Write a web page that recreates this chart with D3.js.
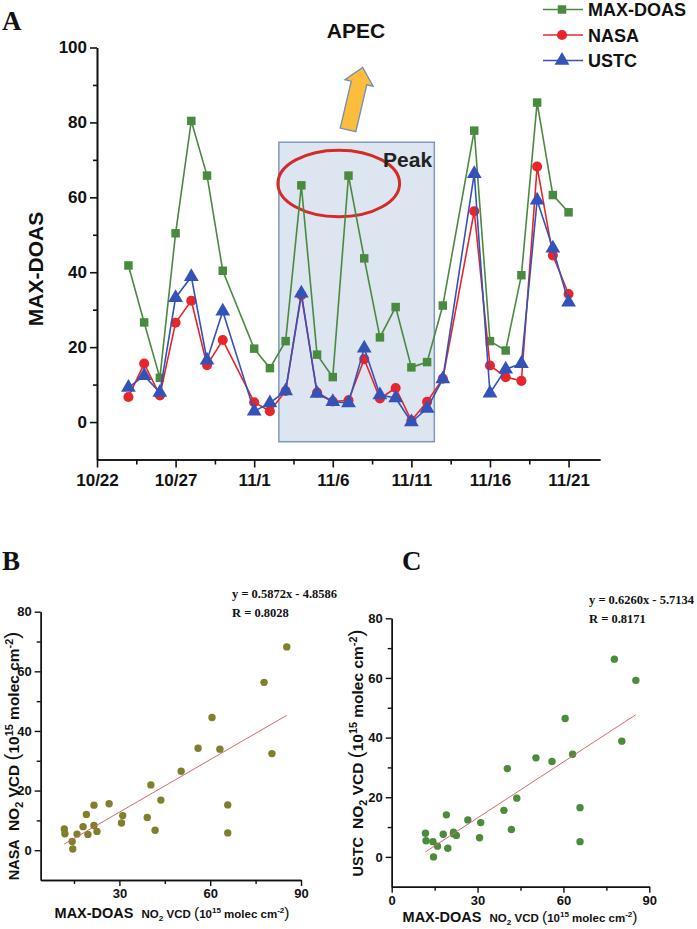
<!DOCTYPE html>
<html><head><meta charset="utf-8">
<script src="https://cdn.jsdelivr.net/npm/d3@7"></script>
<style>
html,body{margin:0;padding:0;background:#fff;}
svg{display:block;font-family:"Liberation Sans",Arial,sans-serif;}
</style></head>
<body>
<svg id="c" width="697" height="929"></svg>
<script>
// ---------- DATA ----------
const dates = ["10/24","10/25","10/26","10/27","10/28","10/29","10/30","11/1","11/2","11/3","11/4","11/5","11/6","11/7","11/8","11/9","11/10","11/11","11/12","11/13","11/15","11/16","11/17","11/18","11/19","11/20","11/21"];
const maxdoas = [41.8,26.6,11.8,50.4,80.4,65.8,40.4,19.6,14.4,21.6,63.2,18.0,12.0,65.8,43.7,22.6,30.7,14.6,16.0,31.1,77.8,21.6,19.1,39.2,85.3,60.6,56.0];
const nasa    = [6.7,15.6,7.1,26.5,32.4,15.2,21.9,5.3,2.9,8.3,33.9,7.9,5.5,5.8,16.8,6.3,9.1,0.4,5.4,11.6,56.3,15.1,12.0,11.0,68.2,44.5,34.2];
const ustc    = [9.2,12.4,7.9,33.2,38.8,16.5,29.6,2.9,5.1,8.3,34.4,7.6,5.4,5.1,19.7,7.2,6.4,0.0,3.6,11.5,66.3,7.7,14.1,15.6,59.2,46.4,32.0];
const seriesNames = ["MAX-DOAS","NASA","USTC"];
const xTickLabelsA = ["10/22","10/27","11/1","11/6","11/11","11/16","11/21"];
const yTicksA = [0,20,40,60,80,100];
const yTicksBC = [0,20,40,60,80];
const xTicksB = [30,60,90];
const xTicksC = [0,30,60,90];
const fitB = {slope:0.5872, intercept:-4.8586, r:0.8028};
const fitC = {slope:0.6260, intercept:-5.7134, r:0.8171};
const year = 2014;

const parse = s => { const [m,d] = s.split("/").map(Number); return new Date(year, m-1, d); };
const addDays = (dt, n) => new Date(dt.getTime() + n*86400000);

const svg = d3.select("#c");
const colG = "#4a8a40", colR = "#e8262a", colB = "#3453b8";

// ---------- PANEL A ----------
const xA = d3.scaleTime().domain([parse("10/22"), parse("11/23")]).range([97, 600]);
const yA = d3.scaleLinear().domain([-10, 100]).range([459.5, 47.5]);
const A = svg.append("g");

// APEC shaded period
const apecStart = addDays(parse("11/2"), 0.57), apecEnd = addDays(parse("11/12"), 0.46);
A.append("rect")
  .attr("x", xA(apecStart)).attr("y", yA(74.7))
  .attr("width", xA(apecEnd) - xA(apecStart)).attr("height", yA(-5.25) - yA(74.7))
  .attr("fill", "#dce5f0").attr("stroke", "#7d98bd").attr("stroke-width", 1.5);

// Peak ellipse
const ellC = addDays(parse("11/6"), 0.38);
A.append("ellipse")
  .attr("cx", xA(ellC)).attr("cy", yA(63.7))
  .attr("rx", xA(addDays(ellC, 3.87)) - xA(ellC)).attr("ry", yA(63.7) - yA(72.6))
  .attr("fill", "none").attr("stroke", "#d42a2a").attr("stroke-width", 3);
A.append("text").attr("x", xA(addDays(parse("11/9"), 0.2))).attr("y", yA(68))
  .attr("font-size", 21).attr("font-weight", "bold").attr("fill", "#222").text("Peak");

// axes
const yAxA = d3.axisLeft(yA).tickValues(yTicksA).tickSize(7).tickSizeOuter(0).tickPadding(3);
const gy = A.append("g").attr("transform", "translate(97,0)").call(yAxA);
A.append("g").attr("transform", "translate(97,0)")
  .call(d3.axisLeft(yA).tickValues([10,30,50,70,90]).tickSize(4).tickSizeOuter(0).tickFormat(""));
const xTickDates = xTickLabelsA.map(parse);
const xMinor = xTickDates.map(d => addDays(d, 2.5)).filter(d => d < parse("11/23"));
const gx = A.append("g").attr("transform", "translate(0,459.5)")
  .call(d3.axisBottom(xA).tickValues(xTickDates).tickSize(8).tickSizeOuter(0).tickPadding(6)
    .tickFormat((d,i) => xTickLabelsA[i]));
A.append("g").attr("transform", "translate(0,459.5)")
  .call(d3.axisBottom(xA).tickValues(xMinor).tickSize(5).tickSizeOuter(0).tickFormat(""));
A.selectAll(".domain, .tick line").attr("stroke", "#111").attr("stroke-width", 1.6);
gy.selectAll("text").attr("font-size", 17).attr("font-weight", "bold").attr("fill", "#111");
gx.selectAll("text").attr("font-size", 17).attr("font-weight", "bold").attr("fill", "#111");

A.append("text").attr("transform", "translate(43,269) rotate(-90)").attr("text-anchor", "middle")
  .attr("font-size", 21).attr("font-weight", "bold").attr("fill", "#111").text("MAX-DOAS");

// series lines
const series = [
  {name: seriesNames[0], vals: maxdoas, col: colG, sym: d3.symbolSquare, size: 72},
  {name: seriesNames[1], vals: nasa, col: colR, sym: d3.symbolCircle, size: 80},
  {name: seriesNames[2], vals: ustc, col: colB, sym: d3.symbolTriangle, size: 95}
];
const line = d3.line().x(d => xA(d.d)).y(d => yA(d.v));
series.forEach(s => {
  const pts = dates.map((d,i) => ({d: parse(d), v: s.vals[i]}));
  A.append("path").datum(pts).attr("d", line).attr("fill", "none").attr("stroke", s.col).attr("stroke-width", 1.6);
  A.append("g").selectAll("path").data(pts).join("path")
    .attr("transform", d => `translate(${xA(d.d)},${yA(d.v)})`)
    .attr("d", d3.symbol().type(s.sym).size(s.size)).attr("fill", s.col);
});

// legend
series.forEach((s, i) => {
  const ly = 9.5 + i*25.5;
  A.append("line").attr("x1", 543).attr("x2", 583).attr("y1", ly).attr("y2", ly).attr("stroke", s.col).attr("stroke-width", 1.6);
  A.append("path").attr("transform", `translate(562,${ly})`).attr("d", d3.symbol().type(s.sym).size(s.size)).attr("fill", s.col);
  A.append("text").attr("x", 588).attr("y", ly + 6.5).attr("font-size", 18).attr("font-weight", "bold").attr("fill", "#111").text(s.name);
});

// title + arrow
A.append("text").attr("x", 356).attr("y", 38).attr("text-anchor", "middle")
  .attr("font-size", 21).attr("font-weight", "bold").attr("fill", "#111").text("APEC");
(function(){
  const t0 = [xA(addDays(parse("10/22"), 15.97)), yA(78)];
  const t1 = [xA(addDays(parse("10/22"), 16.9)), yA(94.7)];
  const dx = t1[0]-t0[0], dy = t1[1]-t0[1], L = Math.hypot(dx, dy);
  const u = [dx/L, dy/L], n = [-u[1], u[0]];
  const hw = 8, hh = 14.5, hl = 16;
  const hb = [t1[0]-u[0]*hl, t1[1]-u[1]*hl];
  const P = (p, k) => [p[0]+n[0]*k, p[1]+n[1]*k];
  const pts = [P(t0,-hw), P(hb,-hw), P(hb,-hh), t1, P(hb,hh), P(hb,hw), P(t0,hw)];
  A.append("polygon").attr("points", pts.map(p => p.join(",")).join(" "))
    .attr("fill", "#fbbd3b").attr("stroke", "#6f8fb5").attr("stroke-width", 1.3);
})();

svg.append("text").attr("x", 2).attr("y", 30).attr("font-family", "Liberation Serif, Times New Roman, serif")
  .attr("font-size", 27).attr("font-weight", "bold").attr("fill", "#111").text("A");

// ---------- PANELS B & C ----------
function axisLabel(g, main, transform, fs) {
  const sub = fs * 0.7, par = fs * 1.35, sh = fs * 0.28, su = fs * 0.42;
  const t = g.append("text").attr("transform", transform).attr("text-anchor", "middle").attr("fill", "#111").attr("font-weight", "bold");
  t.append("tspan").attr("font-size", 14.5).text(main + "\u00a0\u00a0");
  t.append("tspan").attr("font-size", fs).text("NO");
  t.append("tspan").attr("font-size", sub).attr("dy", sh).text("2");
  t.append("tspan").attr("font-size", fs).attr("dy", -sh).text(" VCD ");
  t.append("tspan").attr("font-size", par).attr("font-weight", "normal").text("(");
  t.append("tspan").attr("font-size", fs).text("10");
  t.append("tspan").attr("font-size", sub).attr("dy", -su).text("15");
  t.append("tspan").attr("font-size", fs).attr("dy", su).text(" molec cm");
  t.append("tspan").attr("font-size", sub).attr("dy", -su).text("-2");
  t.append("tspan").attr("font-size", par).attr("font-weight", "normal").attr("dy", su).text(")");
}

function scatterPanel(cfg) {
  const g = svg.append("g");
  const x = d3.scaleLinear().domain(cfg.xd).range(cfg.xr);
  const y = d3.scaleLinear().domain([-10, 80]).range(cfg.yr);
  g.append("g").attr("transform", `translate(${cfg.xr[0]},0)`)
    .call(d3.axisLeft(y).tickValues(yTicksBC).tickSize(6).tickSizeOuter(0).tickPadding(3));
  g.append("g").attr("transform", `translate(${cfg.xr[0]},0)`)
    .call(d3.axisLeft(y).tickValues([10,30,50,70]).tickSize(4).tickSizeOuter(0).tickFormat(""));
  g.append("g").attr("transform", `translate(0,${cfg.yr[0]})`)
    .call(d3.axisBottom(x).tickValues(cfg.xt).tickSize(6).tickSizeOuter(0).tickPadding(3));
  g.append("g").attr("transform", `translate(0,${cfg.yr[0]})`)
    .call(d3.axisBottom(x).tickValues([15,45,75]).tickSize(4).tickSizeOuter(0).tickFormat(""));
  g.selectAll(".domain, .tick line").attr("stroke", "#111").attr("stroke-width", 1.4);
  g.selectAll(".tick text").attr("font-size", 13).attr("font-weight", "bold").attr("fill", "#111");

  // points
  g.append("g").selectAll("circle").data(maxdoas.map((m,i) => [m, cfg.yv[i]])).join("circle")
    .attr("cx", d => x(d[0])).attr("cy", d => y(d[1])).attr("r", 3.7).attr("fill", cfg.col);
  // fit
  const x0 = d3.min(maxdoas), x1 = d3.max(maxdoas);
  g.append("line").attr("x1", x(x0)).attr("y1", y(cfg.fit.slope*x0 + cfg.fit.intercept))
    .attr("x2", x(x1)).attr("y2", y(cfg.fit.slope*x1 + cfg.fit.intercept))
    .attr("stroke", "#d26a6a").attr("stroke-width", 1);
  // equation
  const serif = "Liberation Serif, Times New Roman, serif";
  g.append("text").attr("x", cfg.eq[0]).attr("y", cfg.eq[1]).attr("font-family", serif).attr("font-size", 12.5).attr("font-weight", "bold").attr("fill", "#111")
    .text(`y = ${cfg.fit.slope.toFixed(4)}x - ${Math.abs(cfg.fit.intercept).toFixed(4)}`);
  g.append("text").attr("x", cfg.eq[0]).attr("y", cfg.eq[1] + 19).attr("font-family", serif).attr("font-size", 12.5).attr("font-weight", "bold").attr("fill", "#111")
    .text(`R = ${cfg.fit.r.toFixed(4)}`);
  // letter
  g.append("text").attr("x", cfg.letter[0]).attr("y", cfg.letter[1]).attr("font-family", serif)
    .attr("font-size", 27).attr("font-weight", "bold").attr("fill", "#111").text(cfg.name);
  // axis labels
  axisLabel(g, "MAX-DOAS", `translate(${cfg.xl[0]},${cfg.xl[1]})`, 11.5);
  axisLabel(g, cfg.yname, `translate(${cfg.yl[0]},${cfg.yl[1]}) rotate(-90)`, 15.5);
}

scatterPanel({name: "B", yname: "NASA", yv: nasa, col: "#7f7f2c", fit: fitB,
  xd: [4, 90], xr: [40.7, 301], yr: [880, 611.7], xt: xTicksB,
  eq: [232, 598], letter: [2, 570], xl: [172, 918], yl: [19, 756]});
scatterPanel({name: "C", yname: "USTC", yv: ustc, col: "#4c8a3c", fit: fitC,
  xd: [0, 90], xr: [391.7, 649.3], yr: [886.7, 618.3], xt: xTicksC,
  eq: [589, 604], letter: [402, 570], xl: [520, 922], yl: [363, 753]});
</script>
</body></html>
